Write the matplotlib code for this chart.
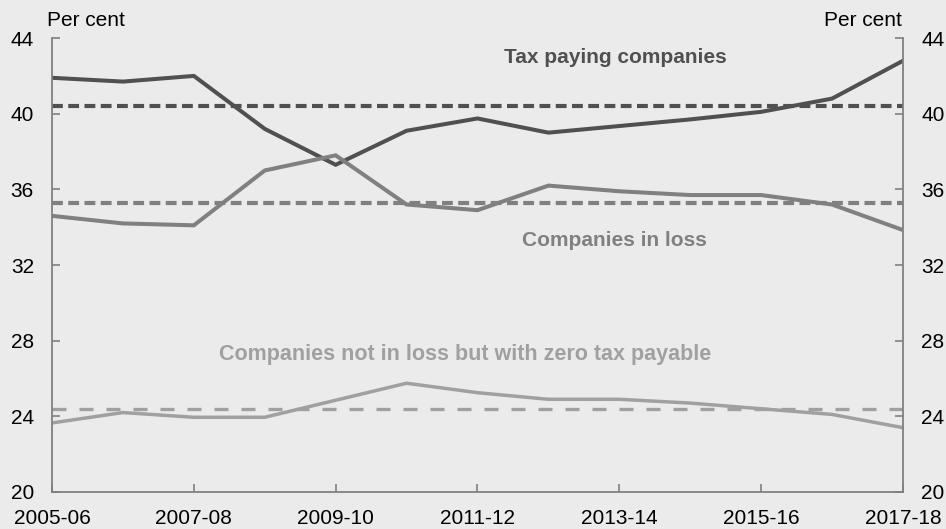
import matplotlib.pyplot as plt
import numpy as np

# financial years on the x axis
years = ["2005-06", "2006-07", "2007-08", "2008-09", "2009-10", "2010-11", "2011-12",
         "2012-13", "2013-14", "2014-15", "2015-16", "2016-17", "2017-18"]

# share of companies, per cent
tax_paying = [41.9, 41.7, 42.0, 39.2, 37.3, 39.1, 39.75, 39.0, 39.35, 39.7, 40.1, 40.8, 42.8]
in_loss = [34.6, 34.2, 34.1, 37.0, 37.8, 35.2, 34.9, 36.2, 35.9, 35.7, 35.7, 35.2, 33.85]
zero_tax = [23.65, 24.2, 23.95, 23.95, 24.85, 25.75, 25.25, 24.9, 24.9, 24.7, 24.4, 24.1, 23.4]

# long run averages (dashed lines)
tax_paying_avg = 40.4
in_loss_avg = 35.3
zero_tax_avg = 24.4

yticks = [20, 24, 28, 32, 36, 40, 44]

# colours
bg = "#EBEBEB"
dark = "#505050"
mid = "#808080"
light = "#A0A0A0"

plt.rcParams['font.family'] = ['Liberation Sans', 'DejaVu Sans']

fig = plt.figure(figsize=(9.46, 5.29), dpi=100, facecolor=bg)
ax = fig.add_axes([0.055, 0.070, 0.8995, 0.858])
ax.set_facecolor(bg)

x = np.arange(len(years))

# averages first so the series sit on top
ax.axhline(tax_paying_avg, color=dark, lw=3.0, dashes=(2.6, 1.3))
ax.axhline(in_loss_avg, color=mid, lw=3.0, dashes=(2.6, 1.3))
ax.axhline(zero_tax_avg, color=light, lw=2.4, dashes=(4.2, 3.9))

ax.plot(x, tax_paying, color=dark, lw=2.9, solid_joinstyle='miter')
ax.plot(x, in_loss, color=mid, lw=2.9, solid_joinstyle='miter')
ax.plot(x, zero_tax, color=light, lw=2.5, solid_joinstyle='miter')

# labels on the lines
ax.text(7.94, 42.95, "Tax paying companies", color=dark, fontsize=15, fontweight='bold',
        ha='center', va='center')
ax.text(7.93, 33.3, "Companies in loss", color=mid, fontsize=15, fontweight='bold',
        ha='center', va='center')
ax.text(5.83, 27.25, "Companies not in loss but with zero tax payable", color=light,
        fontsize=15.5, fontweight='bold', ha='center', va='center')

ax.set_xlim(0, len(years) - 1)
ax.set_ylim(20, 44)
ax.set_xticks(x[::2])
ax.set_xticklabels(years[::2])
ax.set_yticks(yticks)

# axes style
for side in ['left', 'right', 'bottom']:
    ax.spines[side].set_color(mid)
    ax.spines[side].set_linewidth(1.3)
ax.spines['top'].set_visible(False)
ax.tick_params(axis='y', direction='in', length=6, width=1.2, color=mid, pad=13,
               labelsize=15, left=True, right=True, labelleft=True, labelright=True)
ax.tick_params(axis='x', direction='in', length=6, width=1.2, color=mid, pad=12,
               labelsize=15)

# unit labels
fig.text(0.05, 0.962, "Per cent", fontsize=15, ha='left', va='center')
fig.text(0.953, 0.962, "Per cent", fontsize=15, ha='right', va='center')

plt.savefig("out.png", dpi=100, facecolor=bg)
